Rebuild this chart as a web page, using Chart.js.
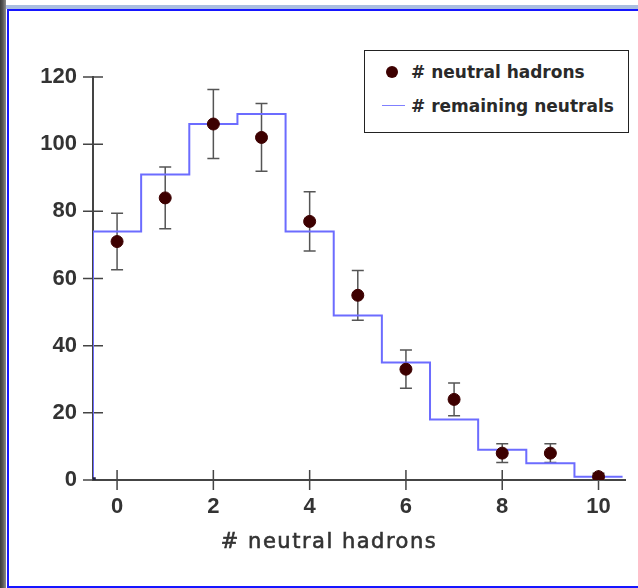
<!DOCTYPE html>
<html>
<head>
<meta charset="utf-8">
<script src="https://cdn.jsdelivr.net/npm/chart.js@4.4.1/dist/chart.umd.min.js"></script>
<style>
html,body{margin:0;padding:0;background:#fff;}
body{width:638px;height:588px;position:relative;overflow:hidden;}
#strip{position:absolute;left:0;top:0;width:6px;height:588px;background:linear-gradient(to right,#3a3a3a,#555 45%,#8c8c8c);}
#topband{position:absolute;left:6px;top:5px;width:632px;height:4px;background:#a9bde0;}
#frame{position:absolute;left:7px;top:9px;width:650px;height:575px;border-left:2px solid #1616ff;border-top:2px solid #1616ff;border-bottom:2px solid #1616ff;}
#chart{position:absolute;left:0;top:0;}
#legend{position:absolute;left:364px;top:50px;width:263px;height:81px;border:1.5px solid #222;background:#fff;font:bold 17px "DejaVu Sans";color:#2a2a2a;}
#legend .row{position:absolute;left:0;width:100%;height:22px;line-height:22px;white-space:nowrap;}
#legend .txt{position:absolute;left:46px;top:0;}
#legend .dot{position:absolute;left:21px;top:5px;width:12px;height:12px;border-radius:50%;}
#legend .line{position:absolute;left:17px;top:10px;width:23px;height:0;border-top:1.5px solid;}
</style>
</head>
<body>
<div id="strip"></div>
<div id="topband"></div>
<div id="frame"></div>
<canvas id="chart" width="638" height="588"></canvas>
<div id="legend"></div>
<script>
// bins and counts
const bins=[0,1,2,3,4,5,6,7,8,9,10];
const neutralHadrons=[71,84,106,102,77,55,33,24,8,8,1];
const hadronErrors=[8.4,9.2,10.3,10.1,8.8,7.4,5.7,4.9,2.8,2.8,1.0];
const remainingNeutrals=[74,91,106,109,74,49,35,18,9,5,1];

const xTicks=[0,2,4,6,8,10];
const yTicks=[0,20,40,60,80,100,120];
const xTitle="# neutral hadrons";

const pointColor="#3d0000";
const stepColor="#6c6cff";

// histogram as bin edges, starting from zero at the left edge
const stepData=[{x:bins[0]-0.5,y:0}].concat(
  bins.map((b,i)=>({x:b+0.5,y:remainingNeutrals[i]}))
);

const tickFont={family:"Liberation Sans",weight:"bold",size:22};

// error bars under the points
const errorBars={
  id:"errorBars",
  beforeDatasetsDraw(chart){
    const {ctx,scales:{x,y}}=chart;
    ctx.save();
    ctx.strokeStyle="#555";
    ctx.lineWidth=1.5;
    ctx.beginPath();
    bins.forEach((b,i)=>{
      const px=x.getPixelForValue(b);
      const top=y.getPixelForValue(neutralHadrons[i]+hadronErrors[i]);
      const bot=y.getPixelForValue(neutralHadrons[i]-hadronErrors[i]);
      ctx.moveTo(px,top);ctx.lineTo(px,bot);
      ctx.moveTo(px-6,top);ctx.lineTo(px+6,top);
      ctx.moveTo(px-6,bot);ctx.lineTo(px+6,bot);
    });
    ctx.stroke();
    ctx.restore();
  }
};

// tick marks that cross the axis line
const crossTicks={
  id:"crossTicks",
  beforeDatasetsDraw(chart){
    const {ctx,chartArea:a,scales:{x,y}}=chart;
    ctx.save();
    ctx.strokeStyle="#444";
    ctx.lineWidth=1.5;
    ctx.beginPath();
    x.ticks.forEach(t=>{
      const p=x.getPixelForValue(t.value);
      ctx.moveTo(p,a.bottom-10);ctx.lineTo(p,a.bottom+10);
    });
    y.ticks.forEach(t=>{
      const p=y.getPixelForValue(t.value);
      ctx.moveTo(a.left-10,p);ctx.lineTo(a.left+10,p);
    });
    ctx.stroke();
    ctx.restore();
  }
};

// x axis title, sits a bit left of the plot centre like the original
const axisTitle={
  id:"axisTitle",
  afterDraw(chart){
    const {ctx,chartArea:a}=chart;
    const tx=(a.left+a.right)/2-30, ty=a.bottom+63;
    ctx.save();
    ctx.font='21px "DejaVu Sans"';
    ctx.fillStyle="#333";
    ctx.strokeStyle="#333";
    ctx.lineWidth=0.6;
    ctx.textAlign="center";
    ctx.textBaseline="middle";
    ctx.letterSpacing="1.5px";
    ctx.fillText(xTitle,tx,ty);
    ctx.strokeText(xTitle,tx,ty);
    ctx.restore();
  }
};

const chart=new Chart(document.getElementById("chart"),{
  type:"scatter",
  data:{
    datasets:[
      {
        label:"# neutral hadrons",
        data:bins.map((b,i)=>({x:b,y:neutralHadrons[i]})),
        backgroundColor:pointColor,
        borderColor:pointColor,
        pointRadius:6,
        showLine:false
      },
      {
        label:"# remaining neutrals",
        data:stepData,
        showLine:true,
        stepped:"after",
        borderColor:stepColor,
        borderWidth:2,
        fill:false,
        pointRadius:ctx=>ctx.dataIndex===0?2.5:0,
        pointStyle:"rect",
        pointBackgroundColor:"#222244",
        pointBorderColor:"#222244"
      }
    ]
  },
  options:{
    responsive:false,
    animation:false,
    layout:{padding:{top:77,right:13,left:0,bottom:0}},
    plugins:{
      legend:{display:false},
      tooltip:{enabled:false}
    },
    scales:{
      x:{
        type:"linear",
        min:-0.5,
        max:10.55,
        afterBuildTicks:s=>{s.ticks=xTicks.map(v=>({value:v}));},
        afterFit:s=>{s.height=108;},
        grid:{display:false,drawTicks:false},
        border:{display:true,color:"#444",width:2},
        ticks:{padding:14,color:"#333",font:tickFont}
      },
      y:{
        type:"linear",
        min:0,
        max:120,
        afterBuildTicks:s=>{s.ticks=yTicks.map(v=>({value:v}));},
        afterFit:s=>{s.width=93;},
        grid:{display:false,drawTicks:false},
        border:{display:true,color:"#444",width:2},
        ticks:{padding:16,color:"#333",font:tickFont}
      }
    }
  },
  plugins:[crossTicks,errorBars,axisTitle]
});

// boxed legend inside the plot
const legend=document.getElementById("legend");
chart.data.datasets.forEach((ds,i)=>{
  const row=document.createElement("div");
  row.className="row";
  row.style.top=(i===0?10:44)+"px";
  const mark=document.createElement("div");
  if(i===0){
    mark.className="dot";
    mark.style.background=ds.backgroundColor;
  }else{
    mark.className="line";
    mark.style.borderColor="#8080ff";
  }
  const txt=document.createElement("span");
  txt.className="txt";
  txt.textContent=ds.label;
  row.appendChild(mark);
  row.appendChild(txt);
  legend.appendChild(row);
});
</script>
</body>
</html>
